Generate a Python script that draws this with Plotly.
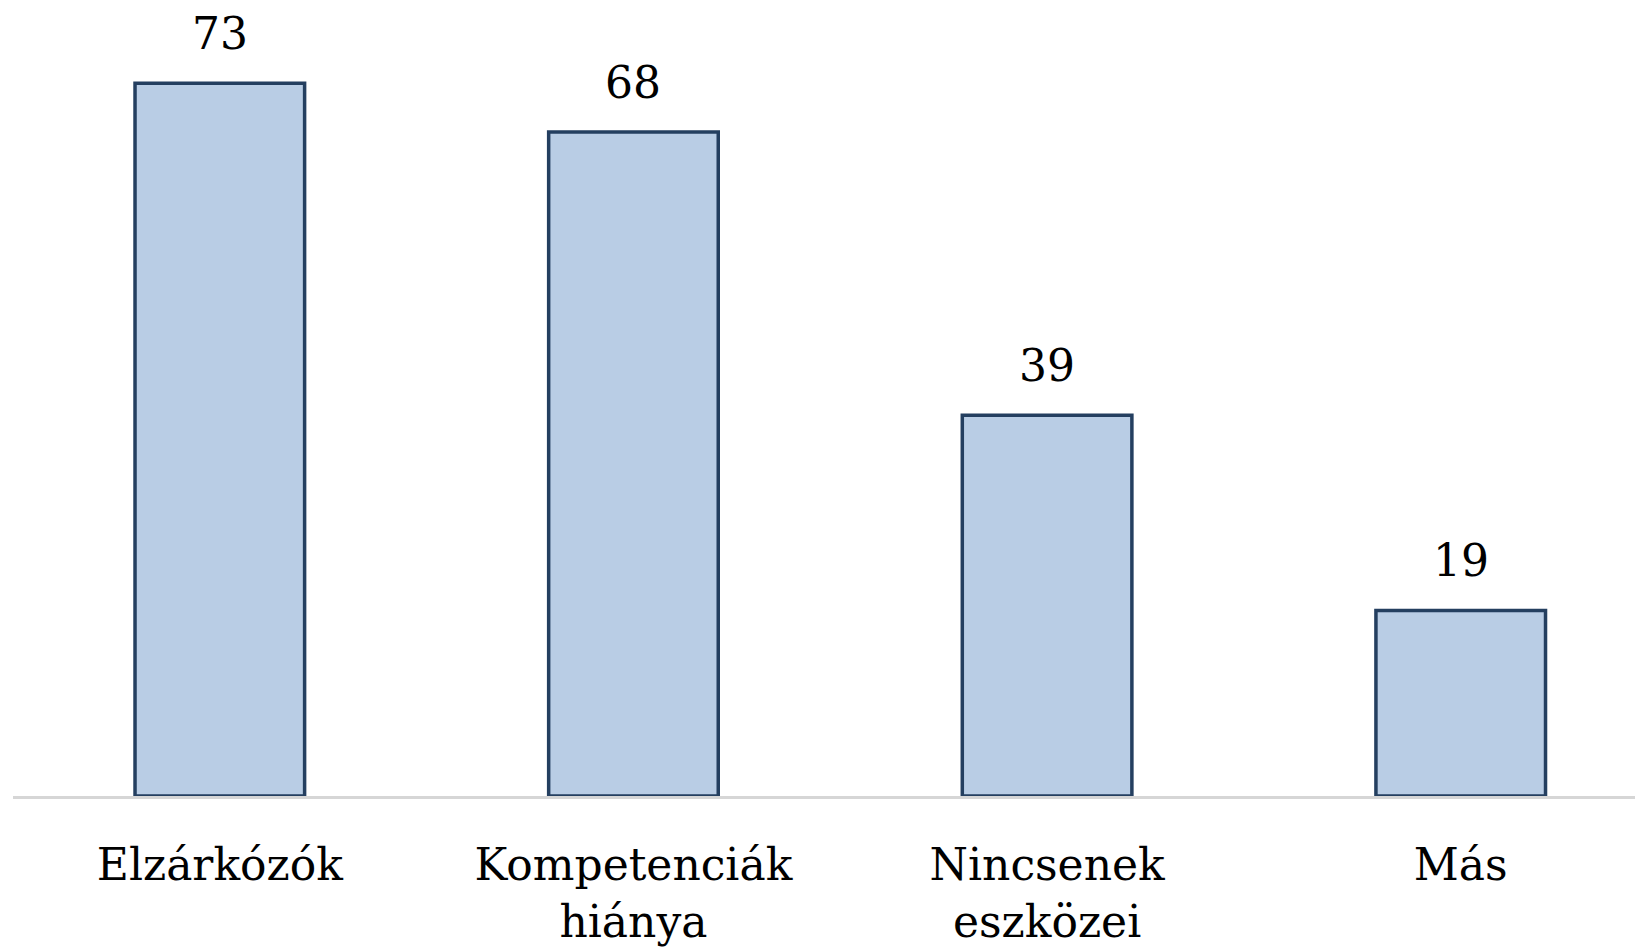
import plotly.graph_objects as go

categories = ["Elzárkózók", "Kompetenciák<br>hiánya", "Nincsenek<br>eszközei", "Más"]
values = [73, 68, 39, 19]

FONT = "DejaVu Serif"

fig = go.Figure()
fig.add_trace(go.Bar(
    x=categories, y=values,
    width=0.41,
    marker=dict(color="#B9CDE5", line=dict(color="#243F60", width=3.5)),
    hoverinfo="skip",
))

for c, v in zip(categories, values):
    fig.add_annotation(x=c, y=v, text=str(v), showarrow=False,
                       yanchor="bottom", yshift=22,
                       font=dict(family=FONT, size=44, color="#000000"))

fig.update_layout(
    width=1643, height=950,
    margin=dict(l=5, r=0, t=0, b=162),
    plot_bgcolor="white", paper_bgcolor="white",
    showlegend=False,
    font=dict(family=FONT, size=44, color="#000000"),
    xaxis=dict(range=[-0.5, 3.46], showgrid=False, zeroline=False,
               showline=True, linecolor="#D6D6D6", linewidth=3,
               ticks="outside", ticklen=28, tickcolor="rgba(0,0,0,0)",
               tickfont=dict(family=FONT, size=44, color="#000000")),
    yaxis=dict(range=[0, 80.7], visible=False, showgrid=False, zeroline=False),
)

fig.write_html("out.html")
